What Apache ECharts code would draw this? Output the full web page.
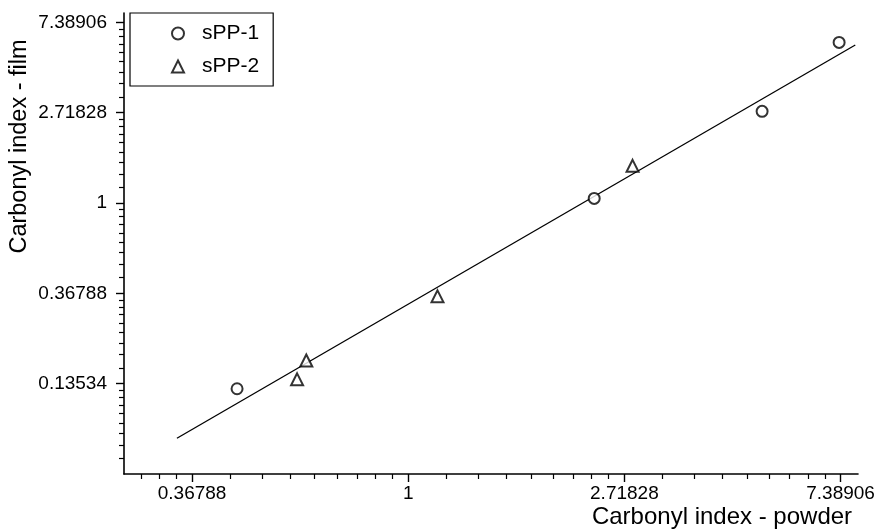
<!DOCTYPE html>
<html>
<head>
<meta charset="utf-8">
<script src="https://cdn.jsdelivr.net/npm/echarts@6/dist/echarts.min.js"></script>
<style>html,body{margin:0;padding:0;background:#fff}#c{width:877px;height:530px}</style>
</head>
<body>
<div id="c"></div>
<script>
// ---- data ----
var sPP1X = [0.453, 2.364, 5.14, 7.34];
var sPP1Y = [0.128, 1.053, 2.76, 5.92];
var sPP2X = [0.598, 0.624, 1.145, 2.823];
var sPP2Y = [0.142, 0.175, 0.356, 1.51];
var fitX = [0.343, 7.91];
var fitY = [0.074, 5.75];
var xTickLabels = ['0.36788', '1', '2.71828', '7.38906'];
var yTickLabels = ['0.13534', '0.36788', '1', '2.71828', '7.38906'];
var xRange = [0.2685, 8.01];
var yRange = [0.0498, 8.2];

var xTicks = xTickLabels.map(parseFloat);
var yTicks = yTickLabels.map(parseFloat);

// minor ticks: 8 linear subdivisions between neighbouring powers of e
function minorTicks(majors, range) {
  var all = [majors[0] / Math.E].concat(majors, [majors[majors.length - 1] * Math.E]);
  var out = [];
  for (var i = 0; i < all.length - 1; i++) {
    var step = (all[i + 1] - all[i]) / 9;
    for (var k = 1; k < 9; k++) {
      var v = all[i] + k * step;
      if (v >= range[0] && v <= range[1]) out.push(v);
    }
  }
  return out;
}
var xMinor = minorTicks(xTicks, xRange);
var yMinor = minorTicks(yTicks, yRange);

function labelFor(ticks, labels) {
  return function (v) {
    var best = 0, d = Infinity;
    for (var i = 0; i < ticks.length; i++) {
      var dd = Math.abs(Math.log(v) - Math.log(ticks[i]));
      if (dd < d) { d = dd; best = i; }
    }
    return labels[best];
  };
}

var FONT = 'Liberation Sans';
var chart = echarts.init(document.getElementById('c'), null, {renderer: 'canvas'});
var axisLine = {show: true, lineStyle: {color: '#000', width: 1.6}};
chart.setOption({
  animation: false,
  backgroundColor: '#fff',
  grid: {left: 124, right: 19, top: 13, bottom: 56, containLabel: false, outerBoundsMode: 'none'},
  legend: {
    orient: 'vertical',
    left: 130, top: 13,
    padding: [10, 14, 9, 41],
    itemGap: 12,
    itemWidth: 12, itemHeight: 12,
    symbolKeepAspect: true,
    borderColor: '#000', borderWidth: 1.2, borderRadius: 0,
    textStyle: {fontFamily: FONT, fontSize: 21, color: '#000', padding: [0, 0, 0, 13]},
    data: ['sPP-1', 'sPP-2']
  },
  xAxis: [{
    type: 'log', logBase: Math.E, min: xRange[0], max: xRange[1],
    position: 'bottom',
    axisLine: axisLine,
    splitLine: {show: false},
    axisTick: {show: true, inside: false, length: 8, lineStyle: {color: '#000', width: 1.4}, customValues: xTicks},
    axisLabel: {show: true, margin: 10, color: '#000', fontFamily: FONT, fontSize: 19,
      customValues: xTicks, formatter: labelFor(xTicks, xTickLabels)},
    name: 'Carbonyl index - powder',
    nameLocation: 'middle', nameGap: 31, nameMoveOverlap: false,
    nameTextStyle: {fontFamily: FONT, fontSize: 24, color: '#000', padding: [0, 0, 0, 462]}
  }, {
    type: 'log', logBase: Math.E, min: xRange[0], max: xRange[1],
    position: 'bottom',
    axisLine: {show: false},
    splitLine: {show: false},
    axisTick: {show: true, inside: false, length: 5, lineStyle: {color: '#000', width: 1.2}, customValues: xMinor},
    axisLabel: {show: false}
  }],
  yAxis: [{
    type: 'log', logBase: Math.E, min: yRange[0], max: yRange[1],
    position: 'left',
    axisLine: axisLine,
    splitLine: {show: false},
    axisTick: {show: true, inside: false, length: 8, lineStyle: {color: '#000', width: 1.4}, customValues: yTicks},
    axisLabel: {show: true, margin: 17, color: '#000', fontFamily: FONT, fontSize: 19,
      customValues: yTicks, formatter: labelFor(yTicks, yTickLabels)},
    name: 'Carbonyl index - film',
    nameLocation: 'middle', nameGap: 92, nameRotate: 90, nameMoveOverlap: false,
    nameTextStyle: {fontFamily: FONT, fontSize: 23.5, color: '#000', padding: [0, 0, 0, 194]}
  }, {
    type: 'log', logBase: Math.E, min: yRange[0], max: yRange[1],
    position: 'left',
    axisLine: {show: false},
    splitLine: {show: false},
    axisTick: {show: true, inside: false, length: 5, lineStyle: {color: '#000', width: 1.2}, customValues: yMinor},
    axisLabel: {show: false}
  }],
  series: [{
    name: 'fit', type: 'line', xAxisIndex: 0, yAxisIndex: 0,
    data: fitX.map(function (x, i) { return [x, fitY[i]]; }),
    showSymbol: false, symbol: 'none',
    lineStyle: {color: '#000', width: 1.3}, silent: true, z: 1
  }, {
    name: 'sPP-1', type: 'scatter', xAxisIndex: 0, yAxisIndex: 0,
    data: sPP1X.map(function (x, i) { return [x, sPP1Y[i]]; }),
    symbol: 'emptyCircle', symbolSize: 11, symbolKeepAspect: true,
    itemStyle: {color: '#000', borderColor: '#000', borderWidth: 1.3}, z: 3
  }, {
    name: 'sPP-2', type: 'scatter', xAxisIndex: 0, yAxisIndex: 0,
    data: sPP2X.map(function (x, i) { return [x, sPP2Y[i]]; }),
    symbol: 'emptyTriangle', symbolSize: 12, symbolKeepAspect: true,
    itemStyle: {color: '#000', borderColor: '#000', borderWidth: 1.3}, z: 3
  }]
});
</script>
</body>
</html>
